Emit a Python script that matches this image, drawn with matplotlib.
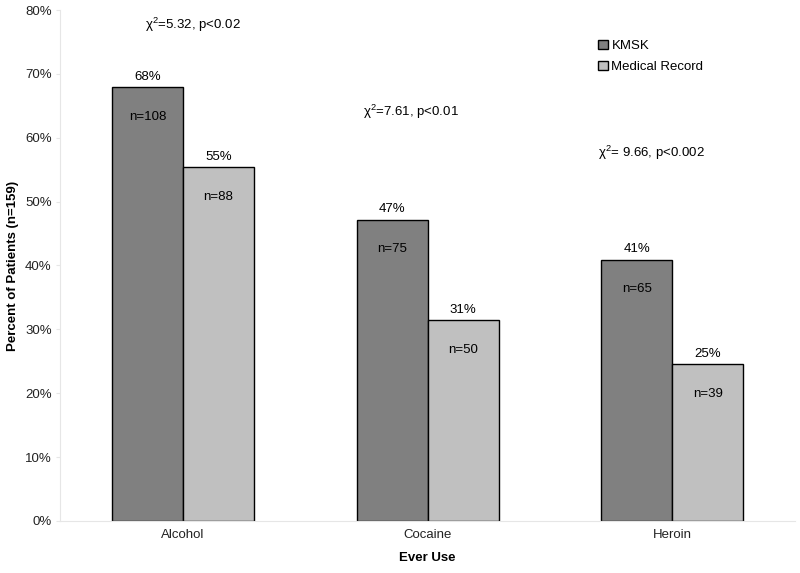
import numpy as np
import matplotlib
matplotlib.use('Agg')
import matplotlib.pyplot as plt

plt.rcParams['font.family'] = ['Liberation Sans', 'DejaVu Sans']
plt.rcParams['mathtext.fontset'] = 'custom'
plt.rcParams['mathtext.rm'] = 'Liberation Sans'
plt.rcParams['mathtext.it'] = 'Liberation Sans'

categories = ['Alcohol', 'Cocaine', 'Heroin']
kmsk_counts = [108, 75, 65]
record_counts = [88, 50, 39]
total_n = 159
chi_labels = ['χ$^{2}$=5.32, p<0.02', 'χ$^{2}$=7.61, p<0.01', 'χ$^{2}$= 9.66, p<0.002']

kmsk_pct = [c / total_n * 100 for c in kmsk_counts]
record_pct = [c / total_n * 100 for c in record_counts]

fig = plt.figure(figsize=(8, 5.73), dpi=100)
ax = fig.add_axes([0.075, 0.0908, 0.919, 0.8917])

x = np.arange(len(categories))
w = 0.29
b1 = ax.bar(x - w / 2, kmsk_pct, w, color='#808080', edgecolor='black', linewidth=1, label='KMSK')
b2 = ax.bar(x + w / 2, record_pct, w, color='#c0c0c0', edgecolor='black', linewidth=1, label='Medical Record')

for bars, pcts, counts in [(b1, kmsk_pct, kmsk_counts), (b2, record_pct, record_counts)]:
    for bar, p, n in zip(bars, pcts, counts):
        cx = bar.get_x() + bar.get_width() / 2
        ax.text(cx, p + 0.7, f'{round(p)}%', ha='center', va='bottom', fontsize=9.5)
        ax.text(cx, p - 4.6, f'n={n}', ha='center', va='center', fontsize=9.5)

# chi-square notes, placed relative to each category centre
chi_offsets = [(0.04, 77.6), (-0.07, 64.0), (-0.085, 57.7)]
for i, ((dx, cy), lab) in enumerate(zip(chi_offsets, chi_labels)):
    ax.text(i + dx, cy, lab, ha='center', va='center', fontsize=9.5)

ax.set_xlim(-0.503, 2.503)
ax.set_ylim(0, 80)
ax.set_xticks(x)
ax.set_xticklabels(categories, fontsize=9.5)
ax.set_yticks(range(0, 81, 10))
ax.set_yticklabels([f'{v}%' for v in range(0, 81, 10)], fontsize=9.5)
ax.set_xlabel('Ever Use', fontsize=9.5, fontweight='bold', labelpad=8)
ax.set_ylabel('Percent of Patients (n=159)', fontsize=9.5, fontweight='bold', labelpad=4)

for s in ['top', 'right']:
    ax.spines[s].set_visible(False)
for s in ['left', 'bottom']:
    ax.spines[s].set_color('#e6e6e6')
ax.tick_params(axis='x', length=0, pad=6, colors='#222222')
ax.tick_params(axis='y', length=3, pad=3, color='#e6e6e6', labelcolor='#222222')

ax.legend(loc='upper left', bbox_to_anchor=(0.716, 0.965), frameon=False, fontsize=9.5,
          handlelength=0.7, handleheight=0.7, handletextpad=0.3, labelspacing=0.65)

fig.savefig('out.png', dpi=100)
